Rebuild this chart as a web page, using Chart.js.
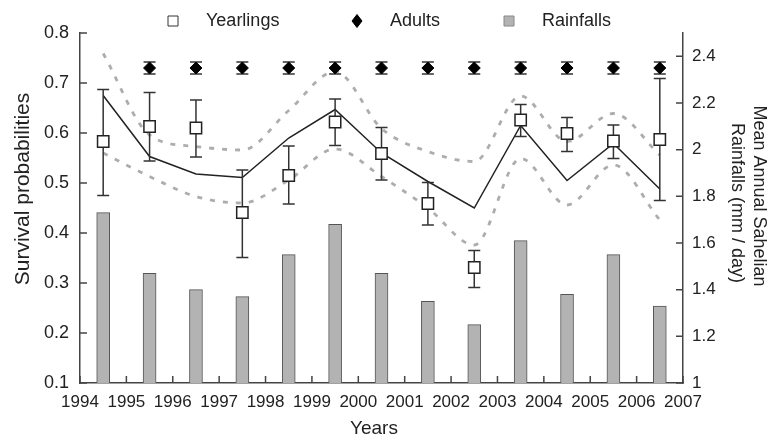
<!DOCTYPE html>
<html>
<head>
<meta charset="utf-8">
<script src="https://cdn.jsdelivr.net/npm/chart.js@4.4.0/dist/chart.umd.min.js"></script>
<style>
	body { margin: 0; background: #fff; }
	#wrap { width: 775px; height: 442px; }
</style>
</head>
<body>
<div id="wrap"><canvas id="mycanvas"></canvas></div>
<script>
var FONT = "'Liberation Sans', Arial, Helvetica, sans-serif";

// one value per season, each season sits between two year ticks
var years = [1994, 1995, 1996, 1997, 1998, 1999, 2000, 2001, 2002, 2003, 2004, 2005, 2006];
var rainfalls = [1.73, 1.47, 1.40, 1.37, 1.55, 1.68, 1.47, 1.35, 1.25, 1.61, 1.38, 1.55, 1.33];
var yearlings = [0.583, 0.613, 0.610, 0.441, 0.515, 0.622, 0.559, 0.459, 0.331, 0.626, 0.599, 0.584, 0.587];
var yearlingsLow = [0.475, 0.544, 0.552, 0.351, 0.458, 0.575, 0.506, 0.416, 0.291, 0.593, 0.563, 0.549, 0.465];
var yearlingsHigh = [0.687, 0.681, 0.666, 0.526, 0.574, 0.668, 0.611, 0.501, 0.365, 0.657, 0.631, 0.616, 0.709];
var adults = [null, 0.73, 0.73, 0.73, 0.73, 0.73, 0.73, 0.73, 0.73, 0.73, 0.73, 0.73, 0.73];
var adultsLow = [null, 0.718, 0.718, 0.718, 0.718, 0.718, 0.718, 0.718, 0.718, 0.718, 0.718, 0.718, 0.718];
var adultsHigh = [null, 0.742, 0.742, 0.742, 0.742, 0.742, 0.742, 0.742, 0.742, 0.742, 0.742, 0.742, 0.742];
var fitted = [0.675, 0.553, 0.518, 0.511, 0.590, 0.647, 0.560, 0.503, 0.450, 0.615, 0.505, 0.579, 0.488];
var fittedUpper = [0.759, 0.596, 0.573, 0.566, 0.645, 0.723, 0.609, 0.563, 0.543, 0.674, 0.583, 0.639, 0.556];
var fittedLower = [0.560, 0.513, 0.473, 0.460, 0.506, 0.568, 0.513, 0.450, 0.376, 0.549, 0.456, 0.536, 0.426];

var yearTicks = [1994, 1995, 1996, 1997, 1998, 1999, 2000, 2001, 2002, 2003, 2004, 2005, 2006, 2007];
var survivalTicks = [0.1, 0.2, 0.3, 0.4, 0.5, 0.6, 0.7, 0.8];
var rainTicks = [1, 1.2, 1.4, 1.6, 1.8, 2, 2.2, 2.4];

function pts(values){
	return values.map(function(v, i){
		return {x: years[i] + 0.5, y: v};
	});
}

// error bars go under the marker of their own dataset
var errorBars = {
	id: 'errorBars',
	beforeDatasetDraw: function(chart, args){
		var ds = chart.data.datasets[args.index];
		if(!ds.errLow) return;
		var meta = chart.getDatasetMeta(args.index);
		var ys = chart.scales.y;
		var ctx = chart.ctx;
		ctx.save();
		ctx.strokeStyle = '#333';
		ctx.lineWidth = 1.5;
		ctx.beginPath();
		meta.data.forEach(function(pt, i){
			if(ds.errLow[i] == null) return;
			var hi = ys.getPixelForValue(ds.errHigh[i]);
			var lo = ys.getPixelForValue(ds.errLow[i]);
			ctx.moveTo(pt.x, hi); ctx.lineTo(pt.x, lo);
			ctx.moveTo(pt.x - 6, hi); ctx.lineTo(pt.x + 6, hi);
			ctx.moveTo(pt.x - 6, lo); ctx.lineTo(pt.x + 6, lo);
		});
		ctx.stroke();
		ctx.restore();
	}
};

// tick marks point into the plot
var innerTicks = {
	id: 'innerTicks',
	afterDraw: function(chart){
		var s = chart.scales;
		var ctx = chart.ctx;
		ctx.save();
		ctx.strokeStyle = '#444';
		ctx.lineWidth = 1.5;
		ctx.beginPath();
		s.x.ticks.forEach(function(t){
			var px = s.x.getPixelForValue(t.value);
			ctx.moveTo(px, s.x.top); ctx.lineTo(px, s.x.top - 7);
		});
		s.y.ticks.forEach(function(t){
			var py = s.y.getPixelForValue(t.value);
			ctx.moveTo(s.y.right, py); ctx.lineTo(s.y.right + 7, py);
		});
		s.y2.ticks.forEach(function(t){
			var py = s.y2.getPixelForValue(t.value);
			ctx.moveTo(s.y2.left, py); ctx.lineTo(s.y2.left - 7, py);
		});
		ctx.stroke();
		ctx.restore();
	}
};

var legendItems = [
	{label: 'Yearlings', shape: 'square', fill: '#fff', stroke: '#333', x: 173},
	{label: 'Adults', shape: 'diamond', fill: '#000', stroke: '#000', x: 357},
	{label: 'Rainfalls', shape: 'square', fill: '#b3b3b3', stroke: '#888', x: 509}
];

var decorations = {
	id: 'decorations',
	afterDraw: function(chart){
		var ctx = chart.ctx;
		ctx.save();
		ctx.textBaseline = 'middle';
		ctx.font = '18px ' + FONT;
		legendItems.forEach(function(item){
			ctx.fillStyle = item.fill;
			ctx.strokeStyle = item.stroke;
			ctx.lineWidth = 1;
			ctx.beginPath();
			if(item.shape == 'square'){
				ctx.rect(item.x - 5, 16, 10, 10);
			} else {
				ctx.moveTo(item.x, 14.5);
				ctx.lineTo(item.x + 5, 21);
				ctx.lineTo(item.x, 27.5);
				ctx.lineTo(item.x - 5, 21);
				ctx.closePath();
			}
			ctx.fill();
			ctx.stroke();
			ctx.fillStyle = '#222';
			ctx.textAlign = 'left';
			ctx.fillText(item.label, item.x + 33, 21);
		});

		ctx.fillStyle = '#222';
		ctx.textAlign = 'center';
		ctx.font = '19px ' + FONT;
		ctx.fillText('Years', 374, 429);

		ctx.save();
		ctx.translate(23, 189);
		ctx.rotate(-Math.PI / 2);
		ctx.font = '21px ' + FONT;
		ctx.fillText('Survival probabilities', 0, 0);
		ctx.restore();

		ctx.save();
		ctx.translate(759, 196);
		ctx.rotate(Math.PI / 2);
		ctx.font = '18px ' + FONT;
		ctx.fillText('Mean Annual Sahelian', 0, 0);
		ctx.fillText('Rainfalls (mm / day)', 7, 22);
		ctx.restore();
		ctx.restore();
	}
};

var chartdata = {
	datasets: [
		{
			type: 'line',
			label: 'Yearlings',
			data: pts(yearlings),
			errLow: yearlingsLow,
			errHigh: yearlingsHigh,
			showLine: false,
			pointStyle: 'rect',
			pointRadius: 8,
			pointBackgroundColor: '#fff',
			pointBorderColor: '#222',
			pointBorderWidth: 1.5,
			yAxisID: 'y',
			order: 1
		},
		{
			type: 'line',
			label: 'Adults',
			data: pts(adults),
			errLow: adultsLow,
			errHigh: adultsHigh,
			showLine: false,
			pointStyle: 'rectRot',
			pointRadius: 6,
			pointBackgroundColor: '#000',
			pointBorderColor: '#000',
			pointBorderWidth: 1,
			yAxisID: 'y',
			order: 1
		},
		{
			type: 'line',
			label: 'Model',
			data: pts(fitted),
			borderColor: '#222',
			borderWidth: 1.5,
			pointRadius: 0,
			tension: 0,
			yAxisID: 'y',
			order: 2
		},
		{
			type: 'line',
			label: 'Upper',
			data: pts(fittedUpper),
			borderColor: '#adadad',
			borderWidth: 2.8,
			borderDash: [5, 8],
			pointRadius: 0,
			cubicInterpolationMode: 'monotone',
			yAxisID: 'y',
			order: 3
		},
		{
			type: 'line',
			label: 'Lower',
			data: pts(fittedLower),
			borderColor: '#adadad',
			borderWidth: 2.8,
			borderDash: [5, 8],
			pointRadius: 0,
			cubicInterpolationMode: 'monotone',
			yAxisID: 'y',
			order: 3
		},
		{
			type: 'bar',
			label: 'Rainfalls',
			data: pts(rainfalls),
			backgroundColor: '#b3b3b3',
			borderColor: '#555',
			borderWidth: 1,
			barThickness: 13,
			yAxisID: 'y2',
			order: 4
		}
	]
};

var ctx = document.getElementById('mycanvas');
var survivalChart = new Chart(ctx, {
	type: 'bar',
	data: chartdata,
	plugins: [errorBars, innerTicks, decorations],
	options: {
		responsive: true,
		maintainAspectRatio: false,
		animation: false,
		layout: {padding: {top: 33, left: 0, right: 0, bottom: 0}},
		plugins: {
			legend: {display: false},
			tooltip: {enabled: false}
		},
		scales: {
			x: {
				type: 'linear',
				min: 1994,
				max: 2007,
				offset: false,
				afterBuildTicks: function(s){ s.ticks = yearTicks.map(function(v){ return {value: v}; }); },
				afterFit: function(s){ s.height = 59; },
				grid: {display: true, drawOnChartArea: false, drawTicks: false, offset: false},
				border: {color: '#444', width: 1.5},
				ticks: {
					font: {size: 17, family: FONT},
					color: '#222',
					padding: 9,
					maxRotation: 0,
					autoSkip: false,
					callback: function(v){ return String(v); }
				}
			},
			y: {
				position: 'left',
				min: 0.1,
				max: 0.8,
				afterBuildTicks: function(s){ s.ticks = survivalTicks.map(function(v){ return {value: v}; }); },
				afterFit: function(s){ s.width = 80; },
				grid: {display: true, drawOnChartArea: false, drawTicks: false},
				border: {color: '#444', width: 1.5},
				ticks: {
					font: {size: 18, family: FONT},
					color: '#222',
					padding: 11,
					callback: function(v){ return String(v); }
				}
			},
			y2: {
				position: 'right',
				min: 1,
				max: 2.5,
				afterBuildTicks: function(s){ s.ticks = rainTicks.map(function(v){ return {value: v}; }); },
				afterFit: function(s){ s.width = 92; },
				grid: {display: true, drawOnChartArea: false, drawTicks: false},
				border: {color: '#444', width: 1.5},
				ticks: {
					font: {size: 17, family: FONT},
					color: '#222',
					padding: 9,
					callback: function(v){ return String(v); }
				}
			}
		}
	}
});
</script>
</body>
</html>
